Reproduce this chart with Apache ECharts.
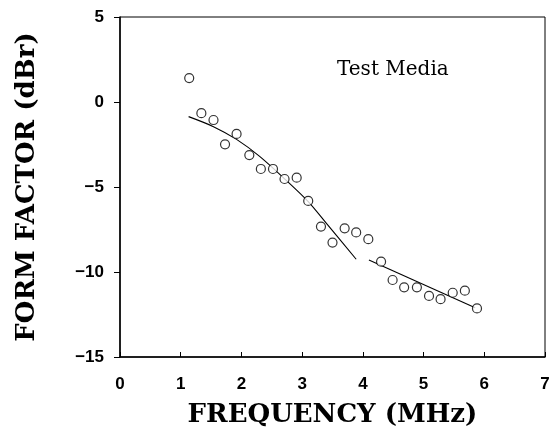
<!DOCTYPE html>
<html>
<head>
<meta charset="utf-8">
<script src="https://cdn.jsdelivr.net/npm/echarts@6/dist/echarts.min.js"></script>
<style>
	html, body { margin: 0; padding: 0; background: #fff; }
	#chart { width: 551px; height: 432px; }
</style>
</head>
<body>
<div id="chart"></div>
<script>
// measured points (MHz, dBr)
var freqPts = [1.14, 1.34, 1.54, 1.73, 1.92, 2.13, 2.32, 2.52, 2.71, 2.91, 3.10, 3.31, 3.50, 3.70, 3.89, 4.09, 4.30, 4.49, 4.68, 4.89, 5.09, 5.28, 5.48, 5.68, 5.88];
var formPts = [1.41, -0.66, -1.06, -2.49, -1.88, -3.12, -3.94, -3.94, -4.53, -4.45, -5.82, -7.33, -8.27, -7.43, -7.67, -8.07, -9.39, -10.47, -10.9, -10.9, -11.41, -11.6, -11.22, -11.1, -12.14];

// fitted curve, low band
var fitLowX = [1.13, 1.54, 1.92, 2.30, 2.72, 3.10, 3.40, 3.89];
var fitLowY = [-0.86, -1.45, -2.2, -3.2, -4.55, -5.86, -7.14, -9.25];
// fitted line, high band
var fitHighX = [4.10, 5.85];
var fitHighY = [-9.3, -12.1];

var xTicks = [0, 1, 2, 3, 4, 5, 6, 7];
var yTicks = [-15, -10, -5, 0, 5];

function zip(a, b) {
	var out = [];
	for(var i = 0; i < a.length; i++) {
		out.push([a[i], b[i]]);
	}
	return out;
}

var chart = echarts.init(document.getElementById('chart'));
var serif = 'DejaVu Serif';
var tickFont = {
	color: '#000',
	fontFamily: 'Liberation Sans Narrow, Liberation Sans',
	fontWeight: 'bold',
	fontSize: 17
};

var option = {
	animation: false,
	backgroundColor: '#fff',
	grid: {
		left: 120,
		right: 6,
		top: 17,
		bottom: 75,
		containLabel: false,
		outerBoundsMode: 'none',
		show: true,
		borderColor: '#000',
		borderWidth: 1
	},
	xAxis: {
		type: 'value',
		min: xTicks[0],
		max: xTicks[xTicks.length - 1],
		interval: 1,
		name: 'FREQUENCY (MHz)',
		nameLocation: 'middle',
		nameGap: 45,
		nameTextStyle: { color: '#000', fontFamily: serif, fontWeight: 'bold', fontSize: 26 },
		axisLine: { onZero: false, lineStyle: { color: '#000', width: 1.5 } },
		axisTick: { show: true, inside: true, length: 5, lineStyle: { color: '#000' } },
		axisLabel: Object.assign({ margin: 19 }, tickFont),
		splitLine: { show: false }
	},
	yAxis: {
		type: 'value',
		min: yTicks[0],
		max: yTicks[yTicks.length - 1],
		interval: 5,
		name: 'FORM FACTOR (dBr)',
		nameLocation: 'middle',
		nameRotate: 90,
		nameGap: 80,
		nameTextStyle: { color: '#000', fontFamily: serif, fontWeight: 'bold', fontSize: 26 },
		axisLine: { onZero: false, lineStyle: { color: '#000', width: 1.5 } },
		axisTick: { show: true, length: 6, lineStyle: { color: '#000' } },
		axisLabel: Object.assign({
			margin: 16,
			formatter: function(v) { return v < 0 ? '\u2212' + Math.abs(v) : String(v); }
		}, tickFont),
		splitLine: { show: false }
	},
	series: [{
		type: 'scatter',
		data: zip(freqPts, formPts),
		symbol: 'circle',
		symbolSize: 9,
		itemStyle: { color: '#fff', borderColor: '#000', borderWidth: 1.2 },
		z: 3
	}, {
		type: 'line',
		data: zip(fitLowX, fitLowY),
		smooth: 0.3,
		showSymbol: false,
		lineStyle: { color: '#000', width: 1.1 }
	}, {
		type: 'line',
		data: zip(fitHighX, fitHighY),
		showSymbol: false,
		lineStyle: { color: '#000', width: 1.1 }
	}],
	graphic: [{
		type: 'text',
		left: 337,
		top: 60,
		style: {
			text: 'Test Media',
			fill: '#000',
			font: '20px "DejaVu Serif"'
		}
	}]
};

chart.setOption(option);
</script>
</body>
</html>
